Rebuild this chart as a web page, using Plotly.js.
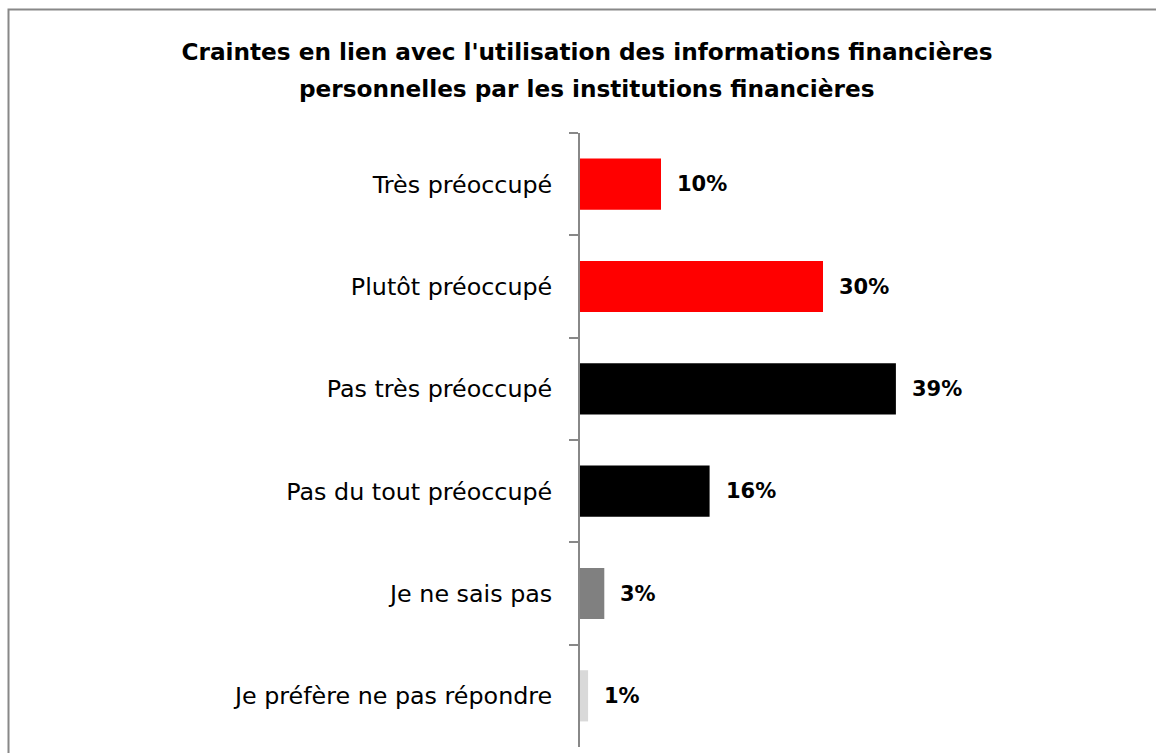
<!DOCTYPE html>
<html>
<head>
<meta charset="utf-8">
<script src="https://cdn.plot.ly/plotly-3.0.1.min.js"></script>
<style>
html,body{margin:0;padding:0;background:#fff;}
#chart{width:1156px;height:753px;}
</style>
</head>
<body>
<div id="chart"></div>
<script>
const categories = ["Très préoccupé", "Plutôt préoccupé", "Pas très préoccupé", "Pas du tout préoccupé", "Je ne sais pas", "Je préfère ne pas répondre"];
const values = [10, 30, 39, 16, 3, 1];
const barColors = ["#FF0000", "#FF0000", "#000000", "#000000", "#808080", "#D9D9D9"];
const valueLabels = ["10%", "30%", "39%", "16%", "3%", "1%"];
const titleLines = ["Craintes en lien avec l'utilisation des informations financières", "personnelles par les institutions financières"];

const W = 1156, H = 753;
const mL = 580, mR = 90, mT = 133, mB = 6;
const FONT = "'DejaVu Sans', sans-serif";

const trace = {
  type: "bar",
  orientation: "h",
  x: values,
  y: categories,
  marker: {color: barColors, line: {width: 0}},
  hoverinfo: "skip"
};

const pw = W - mL - mR, ph = H - mT - mB;
const px2x = px => (px - mL) / pw;
const py2y = py => (H - mB - py) / ph;

const annotations = values.map((v, i) => ({
  x: v, y: categories[i], xref: "x", yref: "y",
  text: "<b>" + valueLabels[i] + "</b>",
  showarrow: false, xanchor: "left", yanchor: "middle", xshift: 14,
  font: {family: FONT, size: 21, color: "#000"}
}));

annotations.push({
  x: px2x(587), y: py2y(89), xref: "paper", yref: "paper",
  text: "<b>" + titleLines[1] + "</b>",
  showarrow: false, xanchor: "center", yanchor: "middle",
  font: {family: FONT, size: 23.2, color: "#000"}
});

const shapes = [{
  type: "rect", xref: "paper", yref: "paper",
  x0: px2x(8.5), x1: px2x(W + 20),
  y0: py2y(H + 20), y1: py2y(9.5),
  line: {color: "#888888", width: 2}, fillcolor: "rgba(0,0,0,0)", layer: "below"
}];

const layout = {
  width: W, height: H,
  margin: {l: mL, r: mR, t: mT, b: mB, pad: 0},
  paper_bgcolor: "#fff", plot_bgcolor: "#fff",
  title: {
    text: "<b>" + titleLines[0] + "</b>",
    font: {family: FONT, size: 23.2, color: "#000"},
    x: 587 / W, xanchor: "center", xref: "container",
    y: 1 - 52 / H, yanchor: "middle", yref: "container"
  },
  showlegend: false,
  bargap: 0.5,
  xaxis: {range: [0, 60], visible: false, fixedrange: true},
  yaxis: {
    autorange: "reversed",
    type: "category",
    showline: true, linecolor: "#888888", linewidth: 2,
    ticks: "outside", tickson: "boundaries", ticklen: 9, tickcolor: "#888888", tickwidth: 2,
    ticklabelstandoff: 21,
    tickfont: {family: FONT, size: 23.8, color: "#000"},
    showgrid: false, zeroline: false, fixedrange: true
  },
  annotations: annotations,
  shapes: shapes
};

Plotly.newPlot("chart", [trace], layout, {displayModeBar: false, staticPlot: true});
</script>
</body>
</html>
